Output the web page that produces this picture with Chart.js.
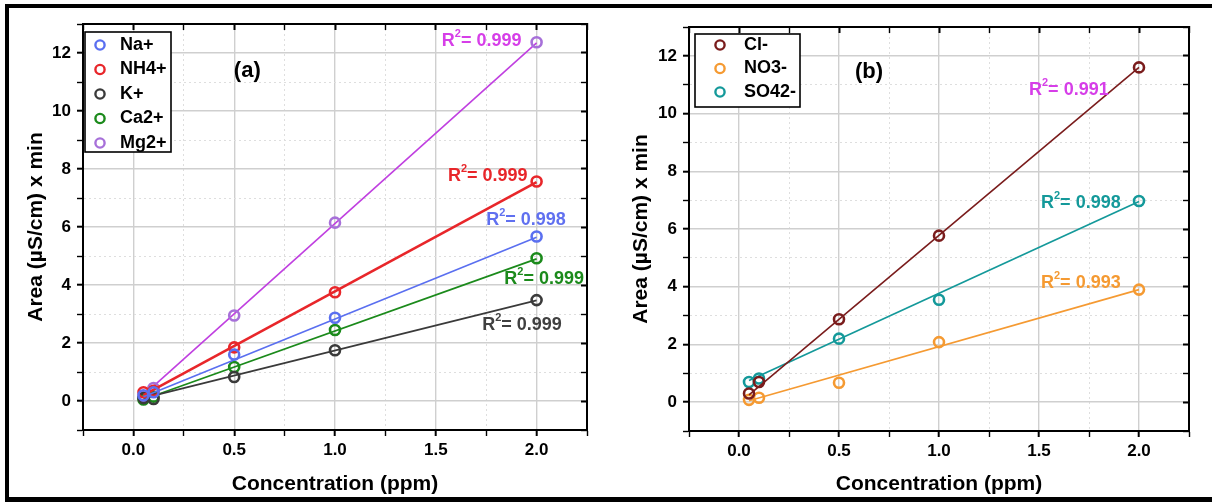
<!DOCTYPE html>
<html>
<head>
<meta charset="utf-8">
<script src="https://cdn.jsdelivr.net/npm/chart.js@4.4.1/dist/chart.umd.min.js"></script>
<style>
  html, body { margin: 0; padding: 0; background: #fff; }
  #wrap { position: relative; width: 1212px; height: 502px; overflow: hidden; }
  .panel { position: absolute; top: 0; }
  #pa { left: 0; }
  #pb { left: 600px; }
  .edge { position: absolute; background: #000; }
</style>
</head>
<body>
<div id="wrap">
  <div class="panel" id="pa"><canvas id="chartA" width="600" height="502"></canvas></div>
  <div class="panel" id="pb"><canvas id="chartB" width="612" height="502"></canvas></div>
  <div class="edge" style="left:5px;top:4px;width:1207px;height:4px"></div>
  <div class="edge" style="left:5px;top:4px;width:4px;height:498px"></div>
  <div class="edge" style="left:5px;top:497px;width:1207px;height:5px"></div>
</div>
<script>
// concentrations (ppm)
const conc = [0.05, 0.1, 0.5, 1.0, 2.0];
const fitX = [0.05, 2.0];

// (a) cations, peak area
const naArea  = [0.2, 0.3, 1.6, 2.87, 5.67];
const nh4Area = [0.3, 0.35, 1.85, 3.75, 7.57];
const kArea   = [0.1, 0.07, 0.83, 1.75, 3.48];
const caArea  = [0.05, 0.15, 1.17, 2.45, 4.92];
const mgArea  = [0.15, 0.45, 2.95, 6.15, 12.37];
// fitted lines, value at 0.05 and 2.0
const naFit  = [0.15, 5.65];
const nh4Fit = [0.2, 7.55];
const kFit   = [0.1, 3.47];
const caFit  = [0.05, 4.9];
const mgFit  = [0.2, 12.35];
const cationR2 = ['0.998', '0.999', '0.999', '0.999', '0.999'];

// (b) anions
const clArea  = [0.3, 0.7, 2.87, 5.77, 11.6];
const no3Area = [0.08, 0.15, 0.67, 2.08, 3.9];
const so4Area = [0.7, 0.82, 2.2, 3.55, 6.97];
const clFit  = [0.25, 11.6];
const no3Fit = [0.05, 3.9];
const so4Fit = [0.75, 6.95];
const anionR2 = ['0.991', '0.993', '0.998'];

const FONT = '"Liberation Sans", Arial, sans-serif';
Chart.defaults.font.family = FONT;

const isMajX = v => v > -0.01 && Math.abs(v * 2 - Math.round(v * 2)) < 1e-6;
const isMajY = v => v > -0.5 && v < 12.5 && Math.abs(v / 2 - Math.round(v / 2)) < 1e-6;

function pts(xs, ys) {
  return xs.map((x, i) => ({ x: x, y: ys[i] }));
}

function series(label, vals, fit, color, lineColor, lw) {
  return [
    { label: label, data: pts(conc, vals), borderColor: color, backgroundColor: 'rgba(0,0,0,0)',
      pointRadius: 5, pointBorderWidth: 2.6, showLine: false },
    { label: label + ' fit', isFit: true, data: pts(fitX, fit), borderColor: lineColor,
      borderWidth: lw, pointRadius: 0, showLine: true, fill: false }
  ];
}

// legend box drawn inside the plot
const boxLegend = {
  id: 'boxLegend',
  afterDraw(chart, args, o) {
    const ctx = chart.ctx, a = chart.chartArea;
    const bx = a.left + o.dx, by = a.top + o.dy;
    ctx.save();
    ctx.fillStyle = '#fff';
    ctx.fillRect(bx, by, o.w, o.h);
    ctx.lineWidth = 1.6;
    ctx.strokeStyle = '#000';
    ctx.strokeRect(bx, by, o.w, o.h);
    chart.data.datasets.filter(d => !d.isFit).forEach((d, i) => {
      const cy = by + o.first + i * o.gap;
      ctx.beginPath();
      ctx.arc(bx + o.markX, cy, 4.6, 0, Math.PI * 2);
      ctx.strokeStyle = d.borderColor;
      ctx.lineWidth = 2.4;
      ctx.stroke();
      ctx.fillStyle = '#000';
      ctx.font = 'bold 18px ' + FONT;
      ctx.textBaseline = 'middle';
      ctx.fillText(d.label, bx + o.textX, cy);
    });
    ctx.restore();
  }
};

// R^2 notes and panel letter
const notes = {
  id: 'notes',
  afterDatasetsDraw(chart, args, o) {
    const ctx = chart.ctx, xs = chart.scales.x, ys = chart.scales.y;
    ctx.save();
    ctx.textBaseline = 'middle';
    o.items.forEach(n => {
      let x = xs.getPixelForValue(n.x);
      const y = ys.getPixelForValue(n.y);
      ctx.fillStyle = n.color;
      ctx.font = 'bold 18px ' + FONT;
      ctx.fillText('R', x, y);
      x += ctx.measureText('R').width;
      ctx.font = 'bold 11px ' + FONT;
      ctx.fillText('2', x, y - 7);
      x += ctx.measureText('2').width;
      ctx.font = 'bold 18px ' + FONT;
      ctx.fillText('= ' + n.text, x, y);
    });
    ctx.fillStyle = '#000';
    ctx.font = 'bold 22px ' + FONT;
    ctx.textAlign = 'center';
    ctx.fillText(o.letter.text, xs.getPixelForValue(o.letter.x), ys.getPixelForValue(o.letter.y));
    ctx.restore();
  }
};

function makePanel(id, datasets, lay, legendOpts, noteOpts) {
  const tickFont = { family: FONT, size: 17, weight: 'bold' };
  const titleFont = { family: FONT, size: 21, weight: 'bold' };
  const gridColX = c => c.tick && isMajX(c.tick.value) ? '#cfcfcf' : '#dedede';
  const gridColY = c => c.tick && isMajY(c.tick.value) ? '#cfcfcf' : '#dedede';
  const tickW = (c, maj) => c.tick && maj(c.tick.value) ? 2 : 1.4;
  return new Chart(document.getElementById(id), {
    type: 'scatter',
    data: { datasets: datasets },
    options: {
      responsive: false,
      animation: false,
      layout: { padding: 0 },
      plugins: { legend: { display: false }, tooltip: { enabled: false },
        boxLegend: legendOpts, notes: noteOpts },
      scales: {
        x: {
          type: 'linear', position: 'bottom', min: -0.25, max: 2.25,
          afterFit: s => { s.height = lay.bottom; },
          ticks: { stepSize: 0.25, autoSkip: false, maxRotation: 0, padding: 4, color: '#000', font: tickFont,
            callback: v => isMajX(v) ? v.toFixed(1) : '' },
          grid: { color: gridColX, lineWidth: c => c.tick && isMajX(c.tick.value) ? 1.4 : 1,
            tickLength: 6, tickColor: '#000', tickWidth: c => tickW(c, isMajX), tickBorderDash: [] },
          border: { color: '#000', width: 2, dash: c => c.tick && isMajX(c.tick.value) ? [] : [2, 3] },
          title: { display: true, text: 'Concentration (ppm)', color: '#000', font: titleFont,
            padding: { top: 0, bottom: 5 } }
        },
        y: {
          type: 'linear', position: 'left', min: -1, max: 13,
          afterFit: s => { s.width = lay.left; },
          ticks: { stepSize: 1, autoSkip: false, padding: 6, color: '#000', font: tickFont,
            callback: v => isMajY(v) ? String(v) : '' },
          grid: { color: gridColY, lineWidth: c => c.tick && isMajY(c.tick.value) ? 1.4 : 1,
            tickLength: 6, tickColor: '#000', tickWidth: c => tickW(c, isMajY), tickBorderDash: [] },
          border: { color: '#000', width: 2, dash: c => c.tick && isMajY(c.tick.value) ? [] : [2, 3] },
          title: { display: true, text: 'Area (µS/cm) x min', color: '#000', font: titleFont,
            padding: { top: lay.titleY, bottom: 0 } }
        },
        x2: {
          type: 'linear', position: 'top', min: -0.25, max: 2.25,
          afterFit: s => { s.height = lay.top; },
          ticks: { display: false, stepSize: 0.25, autoSkip: false },
          grid: { drawOnChartArea: false, tickLength: -6, tickColor: '#000',
            tickWidth: c => tickW(c, isMajX), tickBorderDash: [] },
          border: { color: '#000', width: 2 }
        },
        y2: {
          type: 'linear', position: 'right', min: -1, max: 13,
          afterFit: s => { s.width = lay.right; },
          ticks: { display: false, stepSize: 1, autoSkip: false },
          grid: { drawOnChartArea: false, tickLength: -6, tickColor: '#000',
            tickWidth: c => tickW(c, isMajY), tickBorderDash: [] },
          border: { color: '#000', width: 2 }
        }
      }
    },
    plugins: [boxLegend, notes]
  });
}

makePanel('chartA',
  [].concat(
    series('Na+', naArea, naFit, '#5a6ff0', '#5a6ff0', 1.6),
    series('NH4+', nh4Area, nh4Fit, '#e8262a', '#e8262a', 2.6),
    series('K+', kArea, kFit, '#3a3a3a', '#3a3a3a', 1.6),
    series('Ca2+', caArea, caFit, '#1b8a1b', '#1b8a1b', 1.7),
    series('Mg2+', mgArea, mgFit, '#a770d9', '#c040e0', 1.6)
  ),
  { left: 83, right: 13, top: 24, bottom: 72, titleY: 24 },
  { dx: 2, dy: 8, w: 86, h: 120, first: 13, gap: 24.5, markX: 15, textX: 35 },
  { letter: { text: '(a)', x: 0.565, y: 11.38 },
    items: [
      { text: cationR2[4], x: 1.53, y: 12.42, color: '#d63ee8' },
      { text: cationR2[1], x: 1.56, y: 7.75, color: '#e8262a' },
      { text: cationR2[0], x: 1.75, y: 6.23, color: '#6070f0' },
      { text: cationR2[3], x: 1.84, y: 4.22, color: '#1b8a1b' },
      { text: cationR2[2], x: 1.73, y: 2.63, color: '#404040' }
    ] }
);

makePanel('chartB',
  [].concat(
    series('Cl-', clArea, clFit, '#7a1c1c', '#7a1c1c', 1.6),
    series('NO3-', no3Area, no3Fit, '#f59a32', '#f59a32', 1.7),
    series('SO42-', so4Area, so4Fit, '#14999a', '#14999a', 1.7)
  ),
  { left: 89, right: 23, top: 27, bottom: 71, titleY: 29 },
  { dx: 6, dy: 7, w: 105, h: 73, first: 11, gap: 23.5, markX: 25, textX: 49 },
  { letter: { text: '(b)', x: 0.65, y: 11.45 },
    items: [
      { text: anionR2[0], x: 1.45, y: 10.82, color: '#d63ee8' },
      { text: anionR2[2], x: 1.51, y: 6.9, color: '#14999a' },
      { text: anionR2[1], x: 1.51, y: 4.12, color: '#f59a32' }
    ] }
);
</script>
</body>
</html>
